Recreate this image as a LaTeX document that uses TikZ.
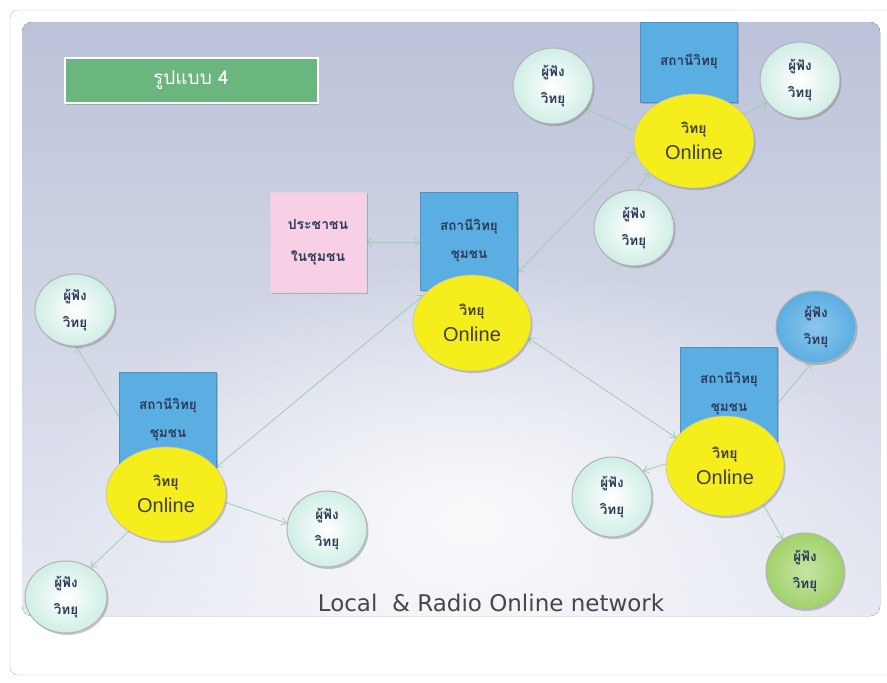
\documentclass[tikz,border=0pt]{standalone}
\usepackage{fontspec}
\setmainfont{DejaVu Sans}
\newfontfamily\thai[Script=Thai]{Loma}
\newfontfamily\arialf{Liberation Sans}
\usetikzlibrary{shadows,arrows.meta,shapes.geometric,fadings}
\definecolor{boxblue}{HTML}{5AAEE2}
\definecolor{ylw}{HTML}{F6EE1C}
\definecolor{mint}{HTML}{D0EEE6}
\definecolor{lgreen}{HTML}{A0D26A}
\definecolor{pinkc}{HTML}{F7D0E6}
\definecolor{conncol}{HTML}{98D0B2}
\definecolor{thtext}{HTML}{2E3A57}
\definecolor{titlegreen}{HTML}{6BB57E}
\definecolor{panelTop}{HTML}{BCC2D9}
\definecolor{panelBot}{HTML}{E6E9F2}
\tikzfading[name=glowfade, inner color=transparent!0, outer color=transparent!100]
\pgfdeclarelayer{bg}\pgfdeclarelayer{mid}\pgfsetlayers{bg,mid,main}
\begin{document}
\begin{tikzpicture}[x=1pt,y=-1pt,
 shad/.style={drop shadow={shadow xshift=1.5pt,shadow yshift=-2pt,opacity=0.35,fill=black!60}},
 station/.style={rectangle, fill=boxblue, draw=boxblue!85!black, line width=0.4pt, minimum width=97pt, align=center, text=thtext, font=\thai\bfseries\fontsize{13.5}{28}\selectfont, shad},
 online/.style={ellipse, fill=ylw, draw=black!25, line width=0.6pt, minimum width=118pt, minimum height=96pt, inner sep=0pt, align=center, text=black!75, font=\fontsize{20}{26}\selectfont, shad},
 listener/.style={ellipse, inner color=white, outer color=mint, draw=black!30, line width=1pt, minimum width=80pt, minimum height=76pt, inner sep=0pt, align=center, text=thtext, font=\thai\bfseries\fontsize{13.5}{27}\selectfont, shad},
 pinkbox/.style={rectangle, fill=pinkc, draw=black!15, minimum width=96pt, minimum height=100pt, align=center, text=thtext, font=\thai\bfseries\fontsize{14}{32}\selectfont, shad},
 titlebox/.style={rectangle, fill=titlegreen, draw=white, line width=2pt, minimum width=253pt, minimum height=45pt, text=white, font=\thai\fontsize{19}{22}\selectfont, shad},
 conn/.style={draw=conncol, line width=0.8pt, -{Straight Barb[length=5pt,width=8pt]}},
 conn2/.style={draw=conncol, line width=0.8pt, {Straight Barb[length=5pt,width=8pt]}-{Straight Barb[length=5pt,width=8pt]}},
]
\useasboundingbox (0,0) rectangle (887,683);
\newcommand{\yltext}{{\thai\bfseries\fontsize{14}{14}\selectfont วิทยุ}\\{\arialf Online}}
\newcommand{\lstext}{ผู้ฟัง\\วิทยุ}

\begin{pgfonlayer}{bg}
\fill[white] (0,0) rectangle (887,683);
\draw[black!25, fill=white, rounded corners=8pt] (10,10) rectangle (900,675);
\fill[top color=panelTop, bottom color=panelBot, rounded corners=10pt] (22,22) rectangle (880,616);
\begin{scope}
\clip[rounded corners=10pt] (22,22) rectangle (880,616);
\fill[white, opacity=0.85, path fading=glowfade] (470,520) ellipse (430pt and 260pt);
\end{scope}
\end{pgfonlayer}

% title
\node[titlebox] (title) at (191,80) {รูปแบบ 4};

% centre group
\node[pinkbox] (pink) at (318,242) {ประชาชน\\ในชุมชน};
\node[station, minimum height=98pt] (cbox) at (469,241) {สถานีวิทยุ\\ชุมชน};
\node[online] (cyl) at (472,323) {\yltext};

% top-right group
\node[station, minimum height=80pt] (tbox) at (689,62) {สถานีวิทยุ};
\node[online, minimum width=120pt, minimum height=94pt] (tyl) at (694,141) {\yltext};
\node[listener] (tl1) at (553,86) {\lstext};
\node[listener] (tl2) at (800,80) {\lstext};
\node[listener] (tl3) at (634,228) {\lstext};

% left group
\node[station, minimum height=96pt] (lbox) at (168,420) {สถานีวิทยุ\\ชุมชน};
\node[online, minimum width=120pt, minimum height=94pt] (lyl) at (166,494) {\yltext};
\node[listener, minimum height=72pt] (ll1) at (75,310) {\lstext};
\node[listener, minimum width=82pt, minimum height=72pt] (ll2) at (66,597) {\lstext};
\node[listener] (ll3) at (327,529) {\lstext};

% bottom-right group
\node[station, minimum height=94pt] (rbox) at (729,394) {สถานีวิทยุ\\ชุมชน};
\node[online, minimum height=100pt] (ryl) at (725,466) {\yltext};
\node[listener, inner color=boxblue!70!white, outer color=boxblue, minimum height=72pt] (rl1) at (816,327) {\lstext};
\node[listener, minimum height=80pt] (rl2) at (612,497) {\lstext};
\node[listener, inner color=lgreen!60!white, outer color=lgreen, minimum width=78pt, minimum height=76pt] (rl3) at (805,571) {\lstext};

% caption
\node[font=\fontsize{23}{26}\selectfont, text=black!72] (cap) at (491,603) {Local\ \ \& Radio Online network};

% connectors
\begin{pgfonlayer}{mid}
\draw[conn2] (pink.east) -- (pink.east -| cbox.west);
\draw[conn2] (cbox.-33) -- (tyl.190);
\draw[conn] (tyl.170) -- (tl1.-35);
\draw[conn] (tyl.28) -- (tl2.215);
\draw[conn] (tl3.85) -- (tyl.215);
\draw[conn2] (lyl.28) -- (cyl.150);
\draw[conn] (lyl.center) -- (ll1.-88);
\draw[conn] (lyl.225) -- (ll2.50);
\draw[conn] (lyl.-8) -- (ll3.172);
\draw[conn2] (cyl.-15) -- (ryl.150);
\draw[conn] (ryl.center) -- (rl1.-97);
\draw[conn] (ryl.178) -- (rl2.40);
\draw[conn] (ryl.-45) -- (rl3.125);
\end{pgfonlayer}
\end{tikzpicture}
\end{document}
